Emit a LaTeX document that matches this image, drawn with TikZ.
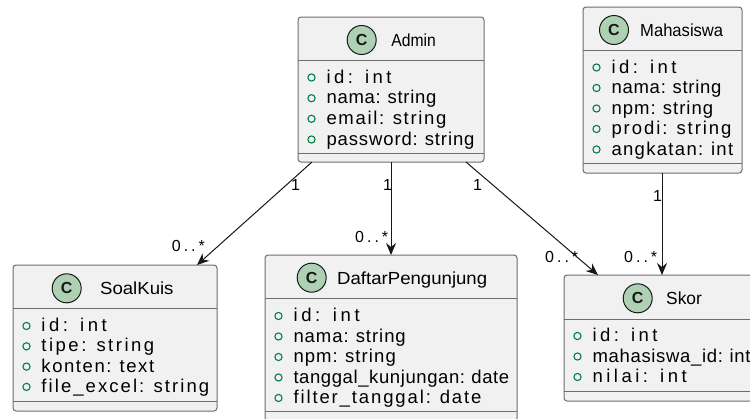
\documentclass[tikz,border=0pt]{standalone}
\usepackage{fontspec}
\setmainfont{Liberation Sans}
\usepackage{graphicx}
\usetikzlibrary{arrows.meta}

\definecolor{boxfill}{HTML}{F1F1F1}
\definecolor{boxline}{HTML}{6E6E6E}
\definecolor{badgefill}{HTML}{ADD1B2}
\definecolor{ink}{HTML}{181818}
\definecolor{visgreen}{HTML}{038048}

% squeeze or stretch a title horizontally to a given width (pt)
\newsavebox\fitbox
\newcommand\fitto[2]{\sbox\fitbox{#2}\pgfmathsetmacro\fitratio{#1/\the\wd\fitbox}\scalebox{\fitratio}[1]{\usebox\fitbox}}
% spread the characters of a string evenly over a given width (pt); spaces written as ~
\newcommand\spreadto[2]{\hbox to #1pt{\spreadfirst#2\relax}}
\def\spreadfirst#1{#1\spreadrest}
\def\spreadrest#1{\ifx#1\relax\else\hfil#1\expandafter\spreadrest\fi}

\tikzset{
  classbox/.style={draw=boxline, fill=boxfill, line width=1pt, rounded corners=3pt,
    anchor=north west, inner sep=0pt, outer sep=0pt},
  sepline/.style={draw=boxline, line width=1pt},
  badge/.style={circle, minimum size=29pt, inner sep=0pt, fill=badgefill, draw=ink,
    line width=1pt, font=\fontsize{16}{16}\selectfont\bfseries, text=ink},
  titletext/.style={anchor=base west, inner sep=0pt, font=\fontsize{17.5}{18}\selectfont, text=black},
  attrtext/.style={anchor=base west, inner sep=0pt, font=\fontsize{18.5}{20}\selectfont, text=black},
  vis/.style={draw=visgreen, line width=1.1pt},
  mult/.style={anchor=base west, inner sep=0pt, font=\fontsize{16}{16}\selectfont, text=black},
  assoc/.style={draw=ink, line width=1pt, -{Stealth[length=12pt, width=10pt, inset=4pt]}},
}

% one attribute row: name, box left x, baseline y, width, text
\newcommand\attr[5]{%
  \draw[vis] (#2+13.5,#3-5.5) circle[radius=3.6pt];
  \node[attrtext] (#1) at (#2+28.3,#3) {\spreadto{#4}{#5}};
}
% class header: name, badge x, badge y, title left x, title width, title
\newcommand\classhead[6]{%
  \node[badge] (#1c) at (#2,#3) {C};
  \node[titletext] (#1t) at (#4,#3+6.5) {\fitto{#5}{#6}};
}
% the two separator lines of a class box
\newcommand\seps[3]{%
  \draw[sepline] ([yshift=-#2pt]#1.north west) -- ([yshift=-#2pt]#1.north east);
  \draw[sepline] ([yshift=-#3pt]#1.north west) -- ([yshift=-#3pt]#1.north east);
}

\begin{document}
\begin{tikzpicture}[x=1pt, y=-1pt]
\useasboundingbox (0,0) rectangle (750,418);
\clip (0,0) rectangle (750,418);
\fill[white] (0,0) rectangle (750,418);

% ---- Admin
\node[classbox, minimum width=186pt, minimum height=145pt] (admin) at (298,17) {};
\seps{admin}{43}{136}
\classhead{admin}{361.7}{40}{391.2}{44.5}{Admin}
\attr{admin1}{298}{83}{65}{id:~int}
\attr{admin2}{298}{103.7}{110}{nama:~string}
\attr{admin3}{298}{124.3}{120}{email:~string}
\attr{admin4}{298}{145}{148}{password:~string}

% ---- Mahasiswa
\node[classbox, minimum width=159pt, minimum height=166pt] (mhs) at (583,7) {};
\seps{mhs}{43}{156}
\classhead{mhs}{614}{30}{640}{83}{Mahasiswa}
\attr{mhs1}{583}{73}{65}{id:~int}
\attr{mhs2}{583}{93.5}{110}{nama:~string}
\attr{mhs3}{583}{114}{101.7}{npm:~string}
\attr{mhs4}{583}{134.5}{120}{prodi:~string}
\attr{mhs5}{583}{155}{121.7}{angkatan:~int}

% ---- SoalKuis
\node[classbox, minimum width=204pt, minimum height=146pt] (soal) at (13,265) {};
\seps{soal}{43}{136}
\classhead{soal}{66.7}{288.3}{100}{73.3}{SoalKuis}
\attr{soal1}{13}{331.5}{65.3}{id:~int}
\attr{soal2}{13}{351.8}{112.7}{tipe:~string}
\attr{soal3}{13}{372.1}{112.7}{konten:~text}
\attr{soal4}{13}{392.4}{167.7}{file\_excel:~string}

% ---- DaftarPengunjung
\node[classbox, minimum width=252pt, minimum height=166pt] (daftar) at (265,255) {};
\seps{daftar}{43}{156}
\classhead{daftar}{311.7}{277.7}{337}{150}{DaftarPengunjung}
\attr{daftar1}{265}{321.5}{66.3}{id:~int}
\attr{daftar2}{265}{342}{112.3}{nama:~string}
\attr{daftar3}{265}{362.5}{102.3}{npm:~string}
\attr{daftar4}{265}{383}{215.7}{tanggal\_kunjungan:~date}
\attr{daftar5}{265}{403.5}{188}{filter\_tanggal:~date}

% ---- Skor
\node[classbox, minimum width=200pt, minimum height=126pt] (skor) at (564,275) {};
\seps{skor}{44}{116}
\classhead{skor}{637.7}{298.3}{666}{35.7}{Skor}
\attr{skor1}{564}{341.5}{65}{id:~int}
\attr{skor2}{564}{362}{158}{mahasiswa\_id:~int}
\attr{skor3}{564}{382.5}{94.3}{nilai:~int}

% ---- associations
\draw[assoc] ([xshift=14pt]admin.south west) -- ([xshift=184pt]soal.north west);
\draw[assoc] ([xshift=93pt]admin.south west) -- ([xshift=126pt]daftar.north west);
\draw[assoc] ([xshift=168pt]admin.south west) -- ([xshift=34pt]skor.north west);
\draw[assoc] ([xshift=79pt]mhs.south west) -- ([xshift=98pt]skor.north west);

% ---- multiplicities
\node[mult] (m1a) at (291,190.5) {1};
\node[mult] (m1b) at (171.7,251.7) {\spreadto{33}{0..*}};
\node[mult] (m2a) at (383,190.5) {1};
\node[mult] (m2b) at (355,242.7) {\spreadto{33}{0..*}};
\node[mult] (m3a) at (473,190.5) {1};
\node[mult] (m3b) at (545,262) {\spreadto{33}{0..*}};
\node[mult] (m4a) at (653,201.7) {1};
\node[mult] (m4b) at (624,262.7) {\spreadto{33}{0..*}};
\end{tikzpicture}
\end{document}
